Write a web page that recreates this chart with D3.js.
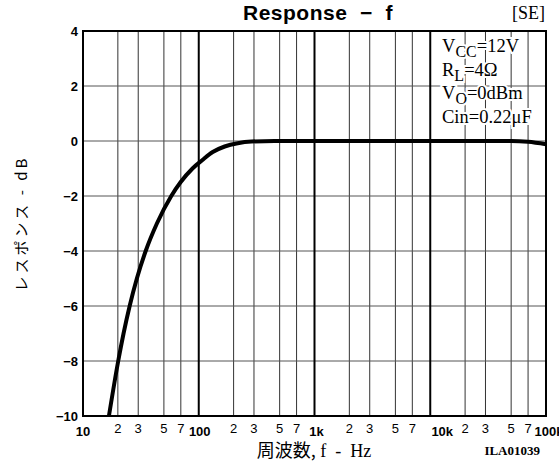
<!DOCTYPE html>
<html><head><meta charset="utf-8">
<script src="https://cdn.jsdelivr.net/npm/d3@7"></script>
<style>body{margin:0;background:#fff}svg{display:block}</style>
</head><body>
<svg id="c" width="559" height="462"></svg>
<script>
const freqs = [16.75, 20.15, 22.4, 25.3, 29.2, 34.8, 43.5, 57.9, 69.6, 88.3, 107, 132, 167.5, 217, 286, 452, 1000, 10000, 50000, 70000, 100000];
const gains = [-10, -8, -7, -6, -5, -4, -3, -2, -1.5, -1.0, -0.7, -0.4, -0.2, -0.08, -0.02, 0, 0, 0, 0, -0.03, -0.12];
const yTicks = [4, 2, 0, -2, -4, -6, -8, -10];
const decades = [10, 100, 1000, 10000, 100000];
const decadeLabels = ["10", "100", "1k", "10k", "100k"];
const minorMult = [2, 3, 5, 7];
const notes = [["V","CC","=12V"],["R","L","=4Ω"],["V","O","=0dBm"],["Cin","","=0.22μF"]];

const svg = d3.select("#c");
const L = 83, R = 546, T = 31, B = 416;
const x = d3.scaleLog().domain([10, 100000]).range([L, R]);
const y = d3.scaleLinear().domain([-10, 4]).range([B, T]);

const minors = [];
decades.slice(0, 4).forEach(d => minorMult.forEach(m => minors.push(d * m)));

const g = svg.append("g");
g.selectAll(".mv").data(minors).enter().append("line")
  .attr("x1", d => x(d)).attr("x2", d => x(d)).attr("y1", T).attr("y2", B)
  .attr("stroke", "#333").attr("stroke-width", 1);
g.selectAll(".hg").data(yTicks).enter().append("line")
  .attr("x1", L).attr("x2", R).attr("y1", d => y(d)).attr("y2", d => y(d))
  .attr("stroke", "#555").attr("stroke-width", 1);
g.selectAll(".dv").data(decades).enter().append("line")
  .attr("x1", d => x(d)).attr("x2", d => x(d)).attr("y1", T).attr("y2", B)
  .attr("stroke", "#000").attr("stroke-width", 2);
g.append("rect").attr("x", L).attr("y", T).attr("width", R - L).attr("height", B - T)
  .attr("fill", "none").attr("stroke", "#000").attr("stroke-width", 2);

// curve
const pts = freqs.map((f, i) => [f, gains[i]]);
svg.append("path").datum(pts)
  .attr("d", d3.line().x(d => x(d[0])).y(d => y(d[1])).curve(d3.curveMonotoneX))
  .attr("fill", "none").attr("stroke", "#000").attr("stroke-width", 4)
  .attr("stroke-linejoin", "round");

// y tick labels
svg.selectAll(".yl").data(yTicks).enter().append("text")
  .attr("x", 78).attr("y", d => y(d)).attr("dy", "0.35em")
  .attr("text-anchor", "end")
  .attr("font-family", "Liberation Sans, Arial, sans-serif").attr("font-weight", "bold")
  .attr("font-size", 13)
  .text(d => d < 0 ? "\u2212" + Math.abs(d) : d);

// x tick labels
const xOff = [0, 1, 2, 12, 3];
svg.selectAll(".xd").data(decades).enter().append("text")
  .attr("x", (d, i) => x(d) + xOff[i]).attr("y", 436)
  .attr("text-anchor", "middle")
  .attr("font-family", "Liberation Sans, Arial, sans-serif").attr("font-size", 13)
  .attr("font-weight", "bold")
  .text((d, i) => decadeLabels[i]);
svg.selectAll(".xm").data(minors).enter().append("text")
  .attr("x", d => x(d)).attr("y", 433)
  .attr("text-anchor", "middle")
  .attr("font-family", "Liberation Sans, Arial, sans-serif").attr("font-size", 13)
  .text(d => String(d).charAt(0));

// title
svg.append("text").attr("x", 318).attr("y", 20).attr("text-anchor", "middle")
  .attr("font-family", "Liberation Sans, Arial, sans-serif").attr("font-weight", "bold")
  .attr("font-size", 21).attr("letter-spacing", 0.5).attr("xml:space", "preserve")
  .text("Response  \u2212  f");
svg.append("text").attr("x", 545).attr("y", 19).attr("text-anchor", "end")
  .attr("font-family", "Liberation Serif, Times New Roman, serif")
  .attr("font-size", 18).text("[SE]");

// notes
const nt = svg.append("g");
notes.forEach((n, i) => {
  const t = nt.append("text").attr("x", 442).attr("y", 52 + i * 23.5)
    .attr("font-family", "Liberation Serif, Times New Roman, serif").attr("font-size", 18.5)
    .attr("stroke", "#fff").attr("stroke-width", 4).attr("paint-order", "stroke")
    .attr("fill", "#000");
  t.append("tspan").text(n[0]);
  if (n[1]) t.append("tspan").attr("dy", 5).attr("font-size", 16).text(n[1]);
  t.append("tspan").attr("dy", n[1] ? -5 : 0).text(n[2]);
});

// axis titles
svg.append("text").attr("transform", `translate(27,${(T + B) / 2}) rotate(-90)`)
  .attr("text-anchor", "middle")
  .attr("font-family", "Noto Sans CJK JP, sans-serif").attr("font-size", 15)
  .attr("letter-spacing", 3).attr("xml:space", "preserve")
  .text("レスポンス - dB");
const xt = svg.append("text").attr("x", 314).attr("y", 457).attr("text-anchor", "middle")
  .attr("font-size", 18).attr("xml:space", "preserve");
xt.append("tspan").attr("font-family", "Noto Sans CJK JP, sans-serif").text("周波数,");
xt.append("tspan").attr("font-family", "Liberation Serif, serif").text(" f  -  Hz");
svg.append("text").attr("x", 540).attr("y", 455).attr("text-anchor", "end")
  .attr("font-family", "Liberation Serif, serif").attr("font-size", 13).attr("font-weight", "bold")
  .text("ILA01039");
</script>
</body></html>
